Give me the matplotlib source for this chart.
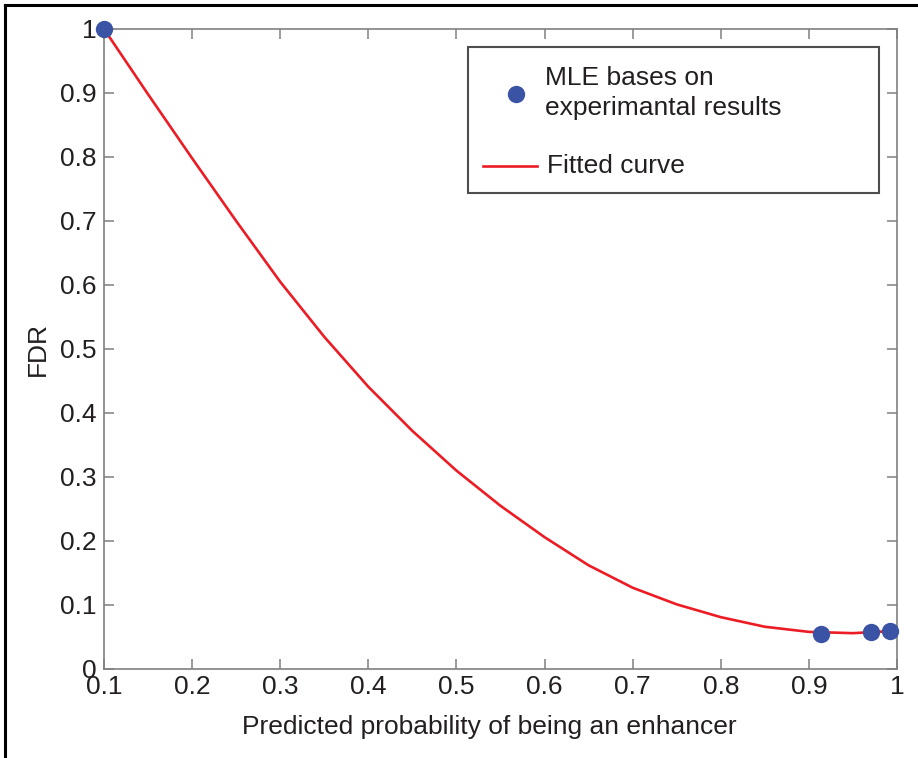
import matplotlib
matplotlib.use("Agg")
import matplotlib.pyplot as plt
from matplotlib.lines import Line2D
from matplotlib.patches import Rectangle

plt.rcParams['font.family'] = ['Liberation Sans', 'DejaVu Sans']

# MLE estimates from experimental results
mle_prob = [0.10, 0.914, 0.971, 0.992]
mle_fdr = [1.00, 0.055, 0.058, 0.059]

# fitted FDR curve
fit_prob = [0.10, 0.15, 0.20, 0.25, 0.30, 0.35, 0.40, 0.45, 0.50, 0.55,
            0.60, 0.65, 0.70, 0.75, 0.80, 0.85, 0.90, 0.95, 0.99]
fit_fdr = [1.000, 0.898, 0.798, 0.700, 0.605, 0.519, 0.441, 0.372, 0.310, 0.255,
           0.206, 0.162, 0.127, 0.101, 0.081, 0.066, 0.058, 0.056, 0.059]

x_ticks = [0.1, 0.2, 0.3, 0.4, 0.5, 0.6, 0.7, 0.8, 0.9, 1.0]
x_tick_labels = ['0.1', '0.2', '0.3', '0.4', '0.5', '0.6', '0.7', '0.8', '0.9', '1']
y_ticks = [0, 0.1, 0.2, 0.3, 0.4, 0.5, 0.6, 0.7, 0.8, 0.9, 1.0]
y_tick_labels = ['0', '0.1', '0.2', '0.3', '0.4', '0.5', '0.6', '0.7', '0.8', '0.9', '1']

legend_labels = ['MLE bases on', 'experimantal results', 'Fitted curve']

text_color = '#231f20'
spine_color = '#808080'
dot_color = '#3a53a4'
curve_color = '#ec1c24'
fs = 19

W, H = 918, 758
AX_L, AX_R, AX_T, AX_B = 104, 897, 29, 669

fig = plt.figure(figsize=(W / 100, H / 100), dpi=100)
ax = fig.add_axes([AX_L / W, 1 - AX_B / H, (AX_R - AX_L) / W, (AX_B - AX_T) / H])

ax.plot(fit_prob, fit_fdr, color=curve_color, lw=1.9, zorder=3, clip_on=False)
ax.plot(mle_prob, mle_fdr, 'o', color=dot_color, ms=12.5, mec='none',
        zorder=4, clip_on=False)

ax.set_xlim(0.1, 1.0)
ax.set_ylim(0, 1.0)
ax.set_xticks(x_ticks)
ax.set_xticklabels(x_tick_labels)
ax.set_yticks(y_ticks)
ax.set_yticklabels(y_tick_labels)
ax.tick_params(direction='in', length=7, width=1.1, color=spine_color,
               labelsize=fs, labelcolor=text_color, top=True, right=True)
ax.tick_params(axis='x', pad=4.5)
ax.tick_params(axis='y', pad=5.5)
for s in ax.spines.values():
    s.set_color(spine_color)
    s.set_linewidth(1.2)

ax.set_xlabel('Predicted probability of being an enhancer', fontsize=fs,
              color=text_color, labelpad=11)
ax.xaxis.label.set_x((489 - AX_L) / (AX_R - AX_L))
ax.set_ylabel('FDR', fontsize=fs, color=text_color, labelpad=7)


def ax_xy(px, py):
    """Pixel position inside the plot box -> axes fraction."""
    return (px - AX_L) / (AX_R - AX_L), (AX_B - py) / (AX_B - AX_T)


# legend box
x0, y0 = ax_xy(468, 193)
x1, y1 = ax_xy(879, 47)
ax.add_patch(Rectangle((x0, y0), x1 - x0, y1 - y0, transform=ax.transAxes,
                       facecolor='white', edgecolor='#4d4d4d', lw=1.5,
                       zorder=5, clip_on=False))
mx, my = ax_xy(516, 94)
ax.add_line(Line2D([mx], [my], marker='o', color=dot_color, ms=12.5, mec='none',
                   transform=ax.transAxes, zorder=6, clip_on=False))
lx0, ly = ax_xy(483, 166)
lx1, _ = ax_xy(537, 166)
ax.add_line(Line2D([lx0, lx1], [ly, ly], color=curve_color, lw=1.9,
                   transform=ax.transAxes, zorder=6, clip_on=False))
for label, (px, py) in zip(legend_labels, [(545, 85), (545, 115), (547, 173)]):
    tx, ty = ax_xy(px, py)
    ax.text(tx, ty, label, transform=ax.transAxes, fontsize=fs,
            color=text_color, ha='left', va='baseline', zorder=7)

# black page frame on the top and left edges
fig.add_artist(Line2D([5 / W, 5 / W], [0, 1 - 5 / H],
                      transform=fig.transFigure, color='black', lw=2.2))
fig.add_artist(Line2D([5 / W, 1], [1 - 5 / H, 1 - 5 / H],
                      transform=fig.transFigure, color='black', lw=2.2))

fig.savefig('out.png', dpi=100)
